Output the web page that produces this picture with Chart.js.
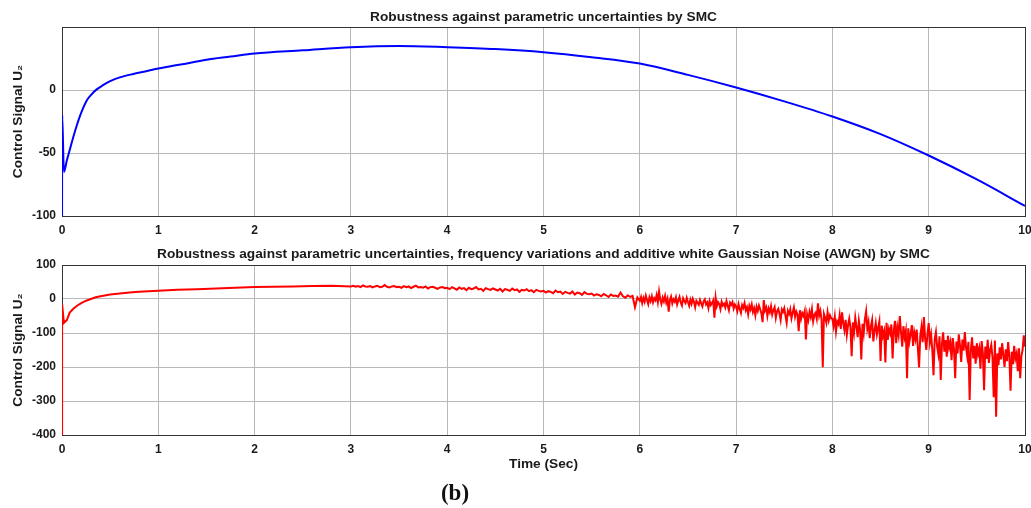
<!DOCTYPE html>
<html>
<head>
<meta charset="utf-8">
<script src="https://cdn.jsdelivr.net/npm/chart.js@4"></script>
<style>
  body { margin: 0; background: #fff; }
  .box { position: absolute; left: 0; width: 1031px; }
  #caption { position: absolute; left: 0; width: 910px; top: 480px; text-align: center;
    font: bold 23px "Liberation Serif", "DejaVu Serif", serif; color: #111; }
</style>
</head>
<body>
<div class="box" style="top:0;height:245px"><canvas id="top" width="1031" height="245"></canvas></div>
<div class="box" style="top:240px;height:240px"><canvas id="bottom" width="1031" height="240"></canvas></div>
<div id="caption">(b)</div>
<script>
// top plot: SMC with parametric uncertainties (smooth)
const timeTop = [0, 0.002, 0.02, 0.05, 0.1, 0.15, 0.2, 0.26, 0.3, 0.36, 0.43, 0.5, 0.6, 0.74, 0.85,
  1.0, 1.25, 1.5, 1.75, 2.0, 2.5, 3.0, 3.5, 4.0, 4.5, 5.0, 5.5, 6.0, 6.5, 7.0, 7.5, 8.0, 8.5, 9.0, 9.5, 10.0];
const u2Top = [-150, -20, -65, -56, -42, -29, -18, -8, -4, 0.5, 4, 7, 10, 12.7, 14.5,
  17, 20.5, 24, 26.5, 29, 31.5, 34, 35, 34, 32.5, 30, 26, 21, 12, 2, -9, -21, -35, -52, -71, -92];

// bottom plot: transient part (0..3 s)
const timeStart = [0, 0.001, 0.02, 0.05, 0.08, 0.12, 0.16, 0.2, 0.25, 0.3, 0.35, 0.4, 0.5, 0.6, 0.7, 0.8,
  1.0, 1.2, 1.4, 1.6, 1.8, 2.0, 2.2, 2.4, 2.6, 2.8];
const u2Start = [-500, -15, -70, -62, -40, -28, -19, -12, -5, 0, 5, 8, 13, 16, 19, 21,
  24, 27, 29, 31, 33, 35, 36, 37, 38, 39];

// bottom plot: light noise, every 0.025 s from 3 s to 6 s
const noisyFrom = 3, noisyStep = 0.025;
const u2Noisy = [
  37,39,36,38,35,40,37,36,38,34,37,39,35,36,41,36,34,37,38,35,
  36,33,38,35,37,32,36,39,34,35,33,37,31,35,36,33,30,34,35,32,
  33,29,35,31,27,34,30,32,26,33,29,31,35,28,30,24,32,29,27,31,
  28,25,30,22,29,27,24,31,26,28,21,27,25,29,23,26,20,27,24,22,
  24,19,23,21,17,25,20,22,15,21,18,16,22,13,19,17,12,20,15,14,
  16,10,14,12,8,15,11,6,13,9,10,7,19,8,4,11,6,9,-24,5
];

// bottom plot: heavy noise, every 0.0125 s from 6 s to 10 s
const heavyFrom = 6, heavyStep = 0.0125;
const u2Heavy = [
  -5,6,-12,3,-8,10,-3,-15,5,-6,
  8,-10,2,-4,12,-9,22,-2,-14,4,
  -7,9,-11,1,-37,-3,7,-13,-1,-8,
  5,-16,-4,6,-10,-19,2,-6,-12,3,
  -9,-20,-2,-14,1,-8,-24,-5,-11,-17,
  -3,-13,-22,-7,-1,-16,-10,-27,-6,-18,
  -12,-4,-55,4,-21,-9,-15,-30,-8,-19,
  -14,-25,-6,-20,-33,-11,-17,-9,-28,-16,
  -22,-36,-15,-29,-41,-18,-26,-12,-33,-24,
  -45,-20,-31,-16,-38,-27,-48,-23,-35,-19,
  -30,-42,-68,-3,-34,-25,-50,-28,-39,-21,
  -46,-33,-24,-55,-36,-29,-43,-62,-31,-38,
  -27,-49,-70,-35,-44,-30,-57,-40,-25,-52,
  -37,-46,-95,-33,-58,-42,-50,-36,-119,-45,
  -62,-38,-53,-30,-66,-47,-41,-58,-13,-49,
  -35,-60,-201,-44,-55,-70,-39,-63,-48,-57,
  -58,-80,-52,-95,-66,-74,-48,-88,-39,-70,
  -92,-61,-105,-77,-58,-84,-168,-69,-98,-55,
  -82,-112,-64,-90,-178,-73,-101,-59,-36,-87,
  -68,-115,-80,-62,-125,-93,-71,-104,-85,-66,
  -182,-78,-109,-95,-187,-70,-120,-88,-101,-75,
  -175,-92,-64,-130,-83,-106,-50,-97,-140,-80,
  -112,-93,-233,-86,-125,-104,-77,-138,-98,-118,
  -90,-145,-201,-108,-82,-127,-53,-115,-150,-102,
  -71,-128,-105,-150,-224,-118,-97,-140,-162,-110,
  -238,-132,-98,-155,-121,-170,-108,-143,-127,-180,
  -115,-148,-233,-125,-160,-104,-137,-185,-119,-152,
  -97,-142,-168,-126,-297,-150,-113,-175,-138,-190,
  -130,-162,-145,-205,-124,-158,-268,-140,-176,-120,
  -188,-150,-135,-172,-289,-122,-346,-160,-195,-142,
  -178,-130,-165,-200,-148,-183,-127,-170,-270,-155,
  -192,-138,-175,-160,-212,-145,-233,-168,-150,-107,
  -140
];

const fontFamily = "'Liberation Sans', Arial, sans-serif";
const tickFont = { family: fontFamily, weight: 'bold', size: 12 };
const labelFont = { family: fontFamily, weight: 'bold', size: 13.7 };
const ink = '#1a1a1a';
const gridColor = '#b8b8b8';

// MATLAB style box around the axes, drawn under the line
const frame = {
  id: 'frame',
  beforeDatasetsDraw(chart) {
    const { ctx, chartArea: a } = chart;
    ctx.save();
    ctx.strokeStyle = '#333';
    ctx.lineWidth = 1;
    ctx.strokeRect(Math.round(a.left) + 0.5, Math.round(a.top) + 0.5,
      Math.round(a.right - a.left), Math.round(a.bottom - a.top));
    ctx.restore();
  }
};

// title centred over the axes, not over the whole canvas
const axesTitle = {
  id: 'axesTitle',
  afterDraw(chart, args, opts) {
    const { ctx, chartArea: a } = chart;
    ctx.save();
    ctx.fillStyle = ink;
    ctx.font = 'bold 13.7px ' + fontFamily;
    ctx.textAlign = 'center';
    ctx.textBaseline = 'middle';
    ctx.fillText(opts.text, (a.left + a.right) / 2, opts.y);
    ctx.restore();
  }
};

function makeChart(id, points, color, title, yMin, yMax, yStep, opts) {
  return new Chart(document.getElementById(id), {
    type: 'line',
    data: { datasets: [{ data: points, borderColor: color, borderWidth: 2, pointRadius: 0,
      tension: 0, cubicInterpolationMode: opts.smooth ? 'monotone' : 'default' }] },
    options: {
      responsive: false,
      animation: false,
      layout: { padding: { left: 0, right: 6, top: opts.top, bottom: 0 } },
      plugins: {
        legend: { display: false },
        tooltip: { enabled: false },
        title: { display: false },
        axesTitle: { text: title, y: opts.titleY }
      },
      scales: {
        x: {
          type: 'linear', min: 0, max: 10,
          ticks: { stepSize: 1, color: ink, font: tickFont, padding: 7, maxRotation: 0 },
          grid: { color: gridColor, drawTicks: false },
          border: { display: false },
          title: { display: opts.xTitle, text: 'Time (Sec)', color: ink, font: labelFont,
            padding: { top: 0, bottom: 8 } },
          afterFit: s => { s.height = opts.xHeight; s.paddingLeft = 0; s.paddingRight = 0; }
        },
        y: {
          min: yMin, max: yMax,
          ticks: { stepSize: yStep, color: ink, font: tickFont, padding: 6,
            callback: v => (v === 50 ? '' : v) },
          grid: { color: gridColor, drawTicks: false },
          border: { display: false },
          title: { display: true, text: 'Control Signal U₂', color: ink, font: labelFont,
            padding: { top: 10, bottom: 0 } },
          afterFit: s => { s.width = 62; }
        }
      }
    },
    plugins: [frame, axesTitle]
  });
}

const topPoints = timeTop.map((t, i) => ({ x: t, y: u2Top[i] }));
makeChart('top', topPoints, '#0000ff', 'Robustness against parametric uncertainties by SMC',
  -100, 50, 50, { smooth: true, top: 27, titleY: 17, xHeight: 29, xTitle: false });

const bottomPoints = timeStart.map((t, i) => ({ x: t, y: u2Start[i] }))
  .concat(u2Noisy.map((v, i) => ({ x: noisyFrom + i * noisyStep, y: v })))
  .concat(u2Heavy.map((v, i) => ({ x: heavyFrom + i * heavyStep, y: v })));
makeChart('bottom', bottomPoints, '#ff0000',
  'Robustness against parametric uncertainties, frequency variations and additive white Gaussian Noise (AWGN) by SMC',
  -400, 100, 100, { smooth: false, top: 25, titleY: 14, xHeight: 45, xTitle: true });
</script>
</body>
</html>
